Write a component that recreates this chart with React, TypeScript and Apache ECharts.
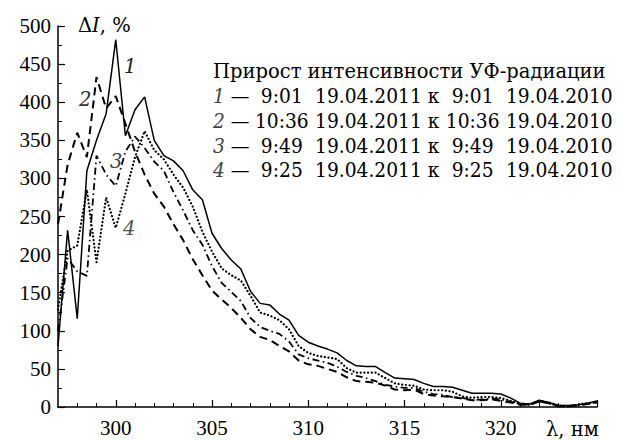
import React, { useEffect, useRef } from "react";
import * as echarts from "echarts";

const wavelengths = [
  297, 297.5, 298, 298.5, 299, 299.5, 300, 300.5, 301, 301.5, 302, 302.5, 303, 303.5, 304, 304.5,
  305, 305.5, 306, 306.5, 307, 307.5, 308, 308.5, 309, 309.5, 310, 310.5, 311, 311.5, 312, 312.5,
  313, 313.5, 314, 314.5, 315, 315.5, 316, 316.5, 317, 317.5, 318, 318.5, 319, 319.5, 320, 320.5,
  321, 321.5, 322, 322.5, 323, 323.5, 324, 324.5, 325,
];

const series1 = [
  80, 232, 116, 310, 350, 385, 482, 356, 390, 407, 350, 330, 323, 310, 285, 272,
  228, 208, 193, 181, 152, 136, 134, 122, 114, 94, 85, 80, 76, 71, 61, 54,
  53, 53, 45, 38, 37, 36, 31, 27, 27, 26, 22, 18, 18, 18, 17, 12,
  5, 4, 9, 6, 2, 2, 3, 5, 8,
];

const series2 = [
  240, 318, 360, 328, 433, 392, 408, 372, 335, 305, 280, 263, 240, 219, 194, 173,
  153, 141, 130, 117, 102, 92, 88, 80, 73, 61, 56, 54, 50, 46, 39, 34,
  33, 32, 28, 23, 22, 23, 17, 15, 14, 13, 11, 9, 9, 10, 8, 6,
  3, 3, 7, 5, 1, 1, 2, 4, 6,
];

const series3 = [
  100, 195, 178, 172, 330, 305, 290, 335, 355, 340, 322, 310, 282, 258, 232, 213,
  185, 163, 151, 139, 117, 105, 100, 96, 86, 69, 64, 61, 58, 53, 46, 41,
  38, 34, 29, 27, 25, 25, 20, 17, 16, 13, 12, 9, 10, 11, 10, 7,
  4, 3, 7, 5, 1, 1, 2, 4, 6,
];

const series4 = [
  128, 205, 212, 285, 190, 275, 235, 280, 328, 362, 337, 325, 305, 288, 263, 230,
  204, 182, 173, 166, 146, 124, 120, 114, 102, 80, 71, 67, 65, 63, 51, 45,
  45, 45, 38, 31, 29, 28, 23, 22, 22, 20, 14, 12, 13, 13, 12, 8,
  4, 3, 8, 6, 2, 1, 3, 5, 6,
];

const xLabelValues = [300, 305, 310, 315, 320];
const xMajorTicks = [300, 305, 310, 315, 320, 325];
const xMinorTicks = [
  298, 299, 301, 302, 303, 304, 306, 307, 308, 309, 311, 312, 313, 314, 316, 317, 318, 319,
  321, 322, 323, 324,
];

const legendTitle = "Прирост интенсивности УФ-радиации";
const legendNums = ["1", "2", "3", "4"];
const legendTimes = ["9:01", "10:36", "9:49", "9:25"];
const legendDate1 = "19.04.2011";
const legendDate2 = "19.04.2010";

const FONT = "DejaVu Serif";
const TICK_FONT = "Liberation Serif";
const FS = 19.5;

function pairs(vals: number[]) {
  return wavelengths.map((x, i) => [x, vals[i]]);
}

export default function App() {
  const ref = useRef<HTMLDivElement>(null);
  useEffect(() => {
    if (!ref.current) return;
    const chart = echarts.init(ref.current, null, { renderer: "svg" });
    const lineBase = { type: "line", symbol: "none", smooth: false, silent: true };
    const txt = { fontFamily: FONT, fontSize: FS, fill: "#000", verticalAlign: "middle" };

    const legendLines: any[] = [];
    legendNums.forEach((n, i) => {
      legendLines.push({
        type: "text",
        x: 213,
        y: 96 + i * 24.7,
        scaleX: 0.957,
        style: {
          verticalAlign: "middle",
          text: `{n|${n}}{d| —}{t|${legendTimes[i]}}{s| ${legendDate1} к }{t|${legendTimes[i]}}{s| ${legendDate2}}`,
          rich: {
            n: { fontFamily: FONT, fontSize: FS, fontStyle: "italic", fill: "#444" },
            d: { fontFamily: FONT, fontSize: FS, fill: "#000", width: 31 },
            t: { fontFamily: FONT, fontSize: FS, fill: "#000", width: 57, align: "right" },
            s: { fontFamily: FONT, fontSize: FS, fill: "#000" },
          },
        },
      });
    });

    chart.setOption({
      animation: false,
      backgroundColor: "#fff",
      grid: { left: 58, right: 25, top: 26, bottom: 33, containLabel: false },
      xAxis: [
        {
          type: "value",
          min: 297,
          max: 325,
          axisLine: { show: true, onZero: false, lineStyle: { color: "#000", width: 1.5 } },
          axisTick: { show: true, inside: true, length: 7, customValues: xMajorTicks, lineStyle: { color: "#000", width: 1.2 } },
          axisLabel: { customValues: xLabelValues, color: "#000", fontFamily: TICK_FONT, fontSize: 21, margin: 10 },
          splitLine: { show: false },
        },
        {
          type: "value",
          position: "bottom",
          min: 297,
          max: 325,
          axisLine: { show: false, onZero: false },
          axisTick: { show: true, inside: true, length: 4, customValues: xMinorTicks, lineStyle: { color: "#000", width: 1 } },
          axisLabel: { show: false },
          splitLine: { show: false },
        },
      ],
      yAxis: {
        type: "value",
        min: 0,
        max: 500,
        interval: 50,
        axisLine: { show: true, onZero: false, lineStyle: { color: "#000", width: 1.5 } },
        axisTick: { show: true, inside: true, length: 7, lineStyle: { color: "#000", width: 1.2 } },
        minorTick: { show: true, splitNumber: 2, length: 4, lineStyle: { color: "#000", width: 1 } },
        axisLabel: { color: "#000", fontFamily: TICK_FONT, fontSize: 21, margin: 7 },
        splitLine: { show: false },
      },
      series: [
        { ...lineBase, name: "1", data: pairs(series1), lineStyle: { color: "#000", width: 1.5, type: "solid" } },
        { ...lineBase, name: "2", data: pairs(series2), lineStyle: { color: "#000", width: 2, type: [8, 5] } },
        { ...lineBase, name: "3", data: pairs(series3), lineStyle: { color: "#000", width: 1.8, type: [7, 3.5, 1.5, 3.5] } },
        { ...lineBase, name: "4", data: pairs(series4), lineStyle: { color: "#000", width: 2.2, type: [0.1, 3.6], cap: "round" } },
      ],
      graphic: [
        {
          type: "text",
          x: 78,
          y: 25,
          style: {
            verticalAlign: "middle",
            text: "{a|Δ}{i|I}{a|, %}",
            rich: {
              a: { fontFamily: FONT, fontSize: FS, fill: "#000" },
              i: { fontFamily: FONT, fontSize: FS, fontStyle: "italic", fill: "#000" },
            },
          },
        },
        { type: "text", x: 546, y: 429, style: { ...txt, text: "λ, нм" } },
        { type: "text", x: 213, y: 71, style: { ...txt, text: legendTitle } },
        ...legendLines,
        { type: "text", x: 124, y: 66, style: { ...txt, fontStyle: "italic", fill: "#222", text: "1" } },
        { type: "text", x: 79, y: 99, style: { ...txt, fontStyle: "italic", fill: "#333", text: "2" } },
        { type: "text", x: 110, y: 161, style: { ...txt, fontStyle: "italic", fill: "#444", text: "3" } },
        { type: "text", x: 123, y: 228, style: { ...txt, fontStyle: "italic", fill: "#555", text: "4" } },
      ],
    });
    return () => chart.dispose();
  }, []);
  return (
    <div
      ref={ref}
      style={{ position: "fixed", left: 0, top: 0, width: 622, height: 440 }}
    />
  );
}
